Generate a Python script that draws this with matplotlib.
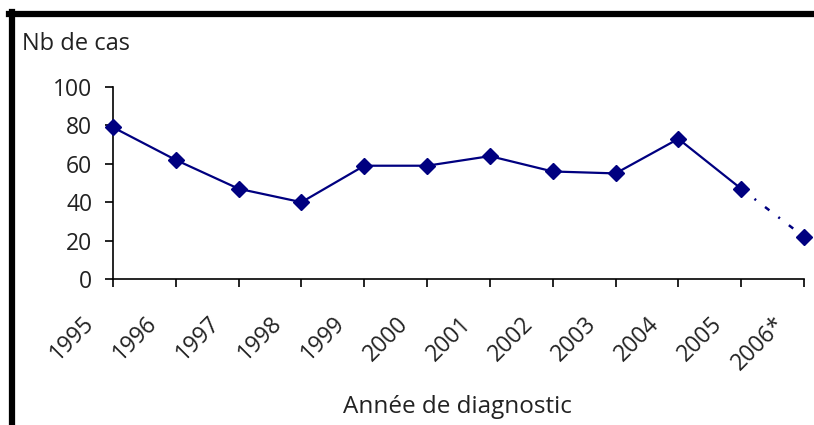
import matplotlib.pyplot as plt
from matplotlib.lines import Line2D
from matplotlib.transforms import ScaledTranslation

years = ["1995", "1996", "1997", "1998", "1999", "2000",
         "2001", "2002", "2003", "2004", "2005", "2006*"]
cases = [79, 62, 47, 40, 59, 59, 64, 56, 55, 73, 47, 22]
y_ticks = [0, 20, 40, 60, 80, 100]

navy = "#000080"
plt.rcParams['font.family'] = ['Open Sans', 'DejaVu Sans']

fig = plt.figure(figsize=(8.14, 4.25), dpi=100)
ax = fig.add_axes([113 / 814, 146 / 425, (804 - 113) / 814, (279 - 87) / 425])

x = list(range(len(years)))
# solid line up to 2005, dotted to the provisional 2006 value
ax.plot(x[:-1], cases[:-1], color=navy, lw=1.6, zorder=2)
ax.plot(x[-2:], cases[-2:], color=navy, lw=1.8, zorder=2,
        linestyle=(0, (2.2, 4.5, 0.8, 4.5)))
ax.plot(x, cases, linestyle="none", marker="D", ms=8.5,
        color=navy, zorder=3, clip_on=False)

ax.set_xlim(0, len(years) - 1)
ax.set_ylim(0, 100)
ax.set_yticks(y_ticks)
ax.set_xticks(x)
ax.set_xticklabels(years, rotation=45, ha="right", va="top",
                   rotation_mode="anchor")
ax.tick_params(axis="both", labelsize=16.5, length=6, width=1.2,
               color="black", labelcolor="#222222")
ax.tick_params(axis="x", pad=4)
ax.tick_params(axis="y", pad=9)

# Excel-style placement: rotated labels sit down-left of their tick
shift = ScaledTranslation(-31 / 100, -19 / 100, fig.dpi_scale_trans)
for lab in ax.get_xticklabels():
    lab.set_transform(lab.get_transform() + shift)

for s in ["top", "right"]:
    ax.spines[s].set_visible(False)
for s in ["left", "bottom"]:
    ax.spines[s].set_linewidth(1.2)

fig.text(22 / 814, 1 - 44 / 425, "Nb de cas", fontsize=17,
         color="#222222", va="center", ha="left")
fig.text(457 / 814, 1 - 407 / 425, "Année de diagnostic", fontsize=17.5,
         color="#222222", va="center", ha="center")

# black frame lines (top and left) from the source document
fig.add_artist(Line2D([9 / 814, 1.0], [1 - 14 / 425, 1 - 14 / 425],
                      transform=fig.transFigure, color="black", lw=4.5))
fig.add_artist(Line2D([12 / 814, 12 / 814], [0, 1 - 11.5 / 425],
                      transform=fig.transFigure, color="black", lw=4.5))

fig.savefig("out.png", dpi=100)
